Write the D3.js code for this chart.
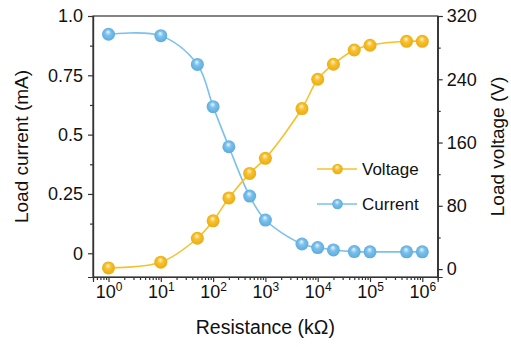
<!DOCTYPE html>
<html>
<head>
<meta charset="utf-8">
<script src="https://cdn.jsdelivr.net/npm/d3@7"></script>
<style>
html,body{margin:0;padding:0;background:#fff;}
svg{display:block;font-family:"Liberation Sans",Arial,sans-serif;}
</style>
</head>
<body>
<svg id="chart" width="511" height="347"></svg>
<script>
// ---- data ----
const resistance = [1, 10, 50, 100, 200, 500, 1000, 5000, 10000, 20000, 50000, 100000, 500000, 1000000];
const current = [0.923, 0.917, 0.796, 0.618, 0.449, 0.241, 0.140, 0.039, 0.024, 0.014, 0.007, 0.006, 0.006, 0.006];
const voltage = [1.5, 8.7, 39, 61, 90, 121, 140, 203, 240, 259, 277, 283, 288, 288];
const xTickValues = [1, 10, 100, 1000, 10000, 100000, 1000000];
const leftTickValues = [0, 0.25, 0.5, 0.75, 1.0];
const leftTickLabels = ["0", "0.25", "0.5", "0.75", "1.0"];
const leftMinor = [0.125, 0.375, 0.625, 0.875];
const rightTickValues = [0, 80, 160, 240, 320];
const rightMinor = [40, 120, 200, 280];
const seriesNames = ["Voltage", "Current"];
const xTitle = "Resistance (kΩ)";
const yLeftTitle = "Load current (mA)";
const yRightTitle = "Load voltage (V)";

// ---- layout ----
const L = 93, R = 437.7, T = 16, B = 277;
const yellow = "#F7C12E", blue = "#7BC1EC";
const svg = d3.select("#chart");

const x = d3.scaleLog().domain([0.505, 1.97e6]).range([L, R]);
const yL = d3.scaleLinear().domain([-0.1, 1.0]).range([B, T]);
const yR = d3.scaleLinear().domain([-10, 320]).range([B, T]);

// gradients
const defs = svg.append("defs");
function grad(id, light, mid, dark) {
  const g = defs.append("radialGradient").attr("id", id)
    .attr("cx", "50%").attr("cy", "50%").attr("r", "55%")
    .attr("fx", "45%").attr("fy", "30%");
  g.append("stop").attr("offset", "0%").attr("stop-color", light);
  g.append("stop").attr("offset", "40%").attr("stop-color", mid);
  g.append("stop").attr("offset", "100%").attr("stop-color", dark);
}
grad("gy", "#FFF6D0", yellow, "#E9A90F");
grad("gb", "#EAF7FF", blue, "#58A8DC");

// frame
svg.append("rect").attr("x", L).attr("y", T).attr("width", R - L).attr("height", B - T)
  .attr("fill", "none").attr("stroke", "#333").attr("stroke-width", 1.2);

const fs = "18px";
// bottom axis
const xMinor = [];
for (let e = -1; e <= 6; e++) for (let m = 2; m <= 9; m++) {
  const v = m * Math.pow(10, e);
  if (v >= x.domain()[0] && v <= x.domain()[1]) xMinor.push(v);
}
svg.append("g").attr("transform", `translate(0,${B})`)
  .call(d3.axisBottom(x).tickValues(xMinor).tickSize(3).tickFormat(""));
const gx = svg.append("g").attr("transform", `translate(0,${B})`)
  .call(d3.axisBottom(x).tickValues(xTickValues).tickSize(5).tickPadding(6).tickFormat(""));
gx.selectAll(".tick text").each(function(d) {
  const t = d3.select(this);
  t.text(null).attr("dy", null).attr("y", 21).attr("font-size", fs).attr("fill", "#111")
    .attr("text-anchor", "middle");
  t.append("tspan").text("10");
  t.append("tspan").text(Math.round(Math.log10(d))).attr("font-size", "12px").attr("dy", -7);
});

// left axis
svg.append("g").attr("transform", `translate(${L},0)`)
  .call(d3.axisLeft(yL).tickValues(leftMinor).tickSize(3).tickFormat(""));
const gl = svg.append("g").attr("transform", `translate(${L},0)`)
  .call(d3.axisLeft(yL).tickValues(leftTickValues).tickSize(5).tickPadding(5)
    .tickFormat((d, i) => leftTickLabels[i]));
gl.selectAll("text").attr("font-size", fs).attr("fill", "#111");

// right axis
svg.append("g").attr("transform", `translate(${R},0)`)
  .call(d3.axisRight(yR).tickValues(rightMinor).tickSize(3).tickFormat(""));
const gr = svg.append("g").attr("transform", `translate(${R},0)`)
  .call(d3.axisRight(yR).tickValues(rightTickValues).tickSize(5).tickPadding(4));
gr.selectAll("text").attr("font-size", fs).attr("fill", "#111");

svg.selectAll(".domain").attr("stroke", "#333").attr("stroke-width", 1.2);
svg.selectAll(".tick line").attr("stroke", "#333").attr("stroke-width", 1.2);

// titles
svg.append("text").attr("x", (L + R) / 2).attr("y", 334).attr("text-anchor", "middle")
  .attr("font-size", "19.5px").attr("fill", "#111").text(xTitle);
svg.append("text").attr("transform", `translate(28,${(T + B) / 2}) rotate(-90)`)
  .attr("text-anchor", "middle").attr("font-size", "19px").attr("fill", "#111").text(yLeftTitle);
svg.append("text").attr("transform", `translate(504,${(T + B) / 2}) rotate(-90)`)
  .attr("text-anchor", "middle").attr("font-size", "19px").attr("fill", "#111").text(yRightTitle);

// series
const vData = resistance.map((r, i) => [r, voltage[i]]);
const cData = resistance.map((r, i) => [r, current[i]]);
const lineV = d3.line().x(d => x(d[0])).y(d => yR(d[1])).curve(d3.curveCatmullRom.alpha(0.5));
const lineC = d3.line().x(d => x(d[0])).y(d => yL(d[1])).curve(d3.curveCatmullRom.alpha(0.5));

svg.append("path").attr("d", lineC(cData)).attr("fill", "none").attr("stroke", blue).attr("stroke-width", 1.6);
svg.append("path").attr("d", lineV(vData)).attr("fill", "none").attr("stroke", yellow).attr("stroke-width", 1.6);

svg.append("g").selectAll("circle").data(cData).join("circle")
  .attr("cx", d => x(d[0])).attr("cy", d => yL(d[1])).attr("r", 6.5).attr("fill", "url(#gb)");
svg.append("g").selectAll("circle").data(vData).join("circle")
  .attr("cx", d => x(d[0])).attr("cy", d => yR(d[1])).attr("r", 6.5).attr("fill", "url(#gy)");

// legend
const legend = [{name: seriesNames[0], c: yellow, g: "url(#gy)", y: 169},
                {name: seriesNames[1], c: blue, g: "url(#gb)", y: 204}];
const lg = svg.append("g");
legend.forEach(l => {
  lg.append("line").attr("x1", 317).attr("x2", 357).attr("y1", l.y).attr("y2", l.y)
    .attr("stroke", l.c).attr("stroke-width", 1.6);
  lg.append("circle").attr("cx", 337.5).attr("cy", l.y).attr("r", 5.3).attr("fill", l.g);
  lg.append("text").attr("x", 362).attr("y", l.y + 6).attr("font-size", "17px").attr("fill", "#111").text(l.name);
});
</script>
</body>
</html>
